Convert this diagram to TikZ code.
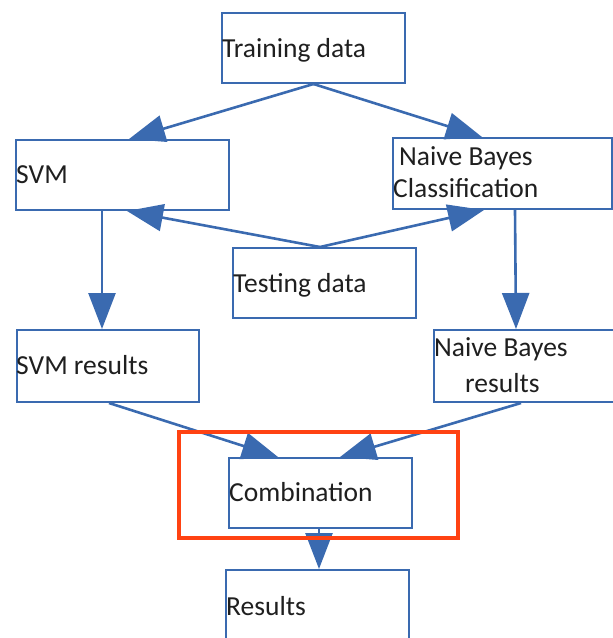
\documentclass[tikz,border=0pt]{standalone}
\usepackage{fontspec}
\setmainfont{Carlito}
\usetikzlibrary{arrows.meta,calc}
\definecolor{boxblue}{RGB}{58,106,176}
\definecolor{hlred}{RGB}{255,66,18}
\begin{document}
\begin{tikzpicture}[x=1pt,y=-1pt,
  box/.style={draw=boxblue,line width=2pt,rectangle,inner sep=0pt,anchor=north west},
  lbl/.style={anchor=base west,inner sep=0pt,font=\fontsize{27.5}{32}\selectfont,text=black!88},
  arr/.style={draw=boxblue,line width=2.6pt,-{Triangle[length=36pt,width=27pt]}}]
\useasboundingbox (0,0) rectangle (613,638);
% boxes
\node[box,minimum width=183pt,minimum height=70pt] (train) at (221,12) {};
\node[box,minimum width=213pt,minimum height=70pt] (svm) at (15,139) {};
\node[box,minimum width=219pt,minimum height=71pt] (nb) at (392,137) {};
\node[box,minimum width=183pt,minimum height=70pt] (test) at (232,247) {};
\node[box,minimum width=182pt,minimum height=72pt] (svmr) at (16,329) {};
\node[box,minimum width=182pt,minimum height=72pt] (nbr) at (433,329) {};
\node[box,minimum width=183pt,minimum height=70pt] (comb) at (228,457) {};
\node[box,minimum width=183pt,minimum height=75pt] (res) at (225,569) {};
% labels
\node[lbl] (ttrain) at (222,57) {Training data};
\node[lbl] (tsvm) at (16,183) {SVM};
\node[lbl] (tnb1) at (399,165) {Naive Bayes};
\node[lbl] (tnb2) at (393,197) {Classification};
\node[lbl] (ttest) at (233,292) {Testing data};
\node[lbl] (tsvmr) at (16,374) {SVM results};
\node[lbl] (tnbr1) at (434,356) {Naive Bayes};
\node[lbl] (tnbr2) at (465,392) {results};
\node[lbl] (tcomb) at (229,501) {Combination};
\node[lbl] (tres) at (226,615) {Results};
% connectors
\draw[arr] (train.south) -- ($(svm.north west)+(114,0)$);
\draw[arr] (train.south) -- ($(nb.north west)+(90,0)$);
\draw[arr] ($(test.north west)+(88,0)$) -- ($(svm.south west)+(112,0)$);
\draw[arr] ($(test.north west)+(88,0)$) -- ($(nb.south west)+(92,0)$);
\draw[arr] ($(svm.south west)+(87,0)$) -- ($(svmr.north west)+(86,0)$);
\draw[arr] ($(nb.south west)+(123,0)$) -- ($(nbr.north west)+(83,0)$);
\draw[arr] ($(svmr.south west)+(93,0)$) -- ($(comb.north west)+(50,0)$);
\draw[arr] ($(nbr.south west)+(88,0)$) -- ($(comb.north west)+(112,0)$);
\draw[arr] ($(comb.south west)+(91,0)$) -- ($(res.north west)+(94,0)$);
% highlight
\node[draw=hlred,line width=3.6pt,rectangle,inner sep=0pt,anchor=north west,minimum width=279pt,minimum height=106pt] (hl) at (177,430) {};
\end{tikzpicture}
\end{document}
